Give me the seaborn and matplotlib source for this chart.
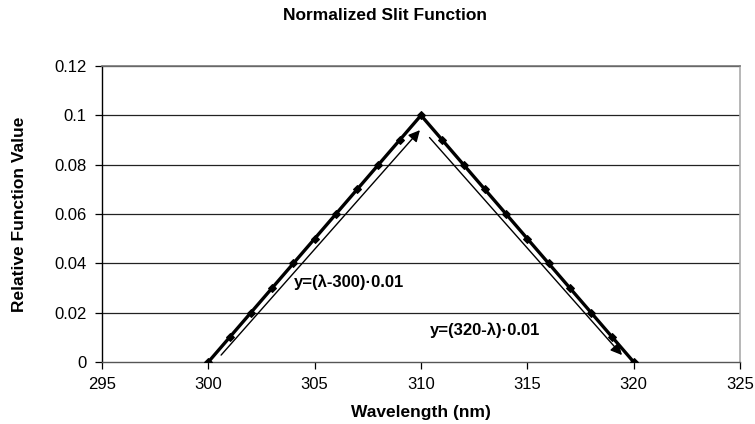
import matplotlib
matplotlib.use("Agg")
import matplotlib.pyplot as plt
import seaborn as sns
import pandas as pd

# Slit function samples: wavelength (nm) and relative value
wavelength = [300, 301, 302, 303, 304, 305, 306, 307, 308, 309, 310,
              311, 312, 313, 314, 315, 316, 317, 318, 319, 320]
value = [0.00, 0.01, 0.02, 0.03, 0.04, 0.05, 0.06, 0.07, 0.08, 0.09, 0.10,
         0.09, 0.08, 0.07, 0.06, 0.05, 0.04, 0.03, 0.02, 0.01, 0.00]

x_ticks = [295, 300, 305, 310, 315, 320, 325]
y_ticks = [0, 0.02, 0.04, 0.06, 0.08, 0.1, 0.12]
y_tick_labels = ["0", "0.02", "0.04", "0.06", "0.08", "0.1", "0.12"]

rising_label = "y=(λ-300)·0.01"
falling_label = "y=(320-λ)·0.01"

sns.set_theme(style="white")
plt.rcParams["font.family"] = ["Liberation Sans", "DejaVu Sans"]
plt.rcParams["text.color"] = "black"
plt.rcParams["axes.labelcolor"] = "black"
plt.rcParams["xtick.color"] = "black"
plt.rcParams["ytick.color"] = "black"

df = pd.DataFrame({"Wavelength (nm)": wavelength, "Relative Function Value": value})

fig = plt.figure(figsize=(7.55, 4.24), dpi=100)
ax = fig.add_axes([102 / 755, 1 - 362 / 424, 638 / 755, 296 / 424])

for yv in y_ticks[1:]:
    ax.axhline(yv, color="#222222", lw=0.9, zorder=1)

sns.lineplot(data=df, x="Wavelength (nm)", y="Relative Function Value", ax=ax,
             color="black", lw=2.4, marker="D", markersize=4.2,
             markeredgecolor="black", zorder=3)

ax.set_xlim(295, 325)
ax.set_ylim(0, 0.12)
ax.set_xticks(x_ticks)
ax.set_xticklabels([str(t) for t in x_ticks], fontsize=12)
ax.set_yticks(y_ticks)
ax.set_yticklabels(y_tick_labels, fontsize=12)
ax.tick_params(axis="both", direction="out", length=5, width=0.9, color="black",
               labelcolor="black", bottom=True, left=True, pad=6)

ax.set_xlabel("Wavelength (nm)", fontsize=12.5, fontweight="bold", labelpad=9)
ax.set_ylabel("Relative Function Value", fontsize=12.5, fontweight="bold", labelpad=20)
fig.suptitle("Normalized Slit Function", x=0.51, y=0.98, fontsize=12.5, fontweight="bold")

for side in ["top", "right"]:
    ax.spines[side].set_color("#aaaaaa")
    ax.spines[side].set_linewidth(1.2)
ax.spines["top"].set_color("#777777")
ax.spines["left"].set_color("black")
ax.spines["bottom"].set_color("#555555")
for side in ["left", "bottom"]:
    ax.spines[side].set_linewidth(1.0)

# Guide arrows along each slope
ax.annotate("", xy=(309.95, 0.094), xytext=(300.6, 0.0028),
            arrowprops=dict(arrowstyle="-|>", color="black", lw=1.0,
                            mutation_scale=17, shrinkA=0, shrinkB=0), zorder=4)
ax.annotate("", xy=(319.45, 0.0028), xytext=(310.4, 0.091),
            arrowprops=dict(arrowstyle="-|>", color="black", lw=1.0,
                            mutation_scale=17, shrinkA=0, shrinkB=0), zorder=4)

ax.text(304.0, 0.0325, rising_label, fontsize=12, fontweight="bold",
        ha="left", va="center", zorder=5)
ax.text(310.4, 0.0128, falling_label, fontsize=12, fontweight="bold",
        ha="left", va="center", zorder=5)

fig.savefig("out.png", dpi=100)
